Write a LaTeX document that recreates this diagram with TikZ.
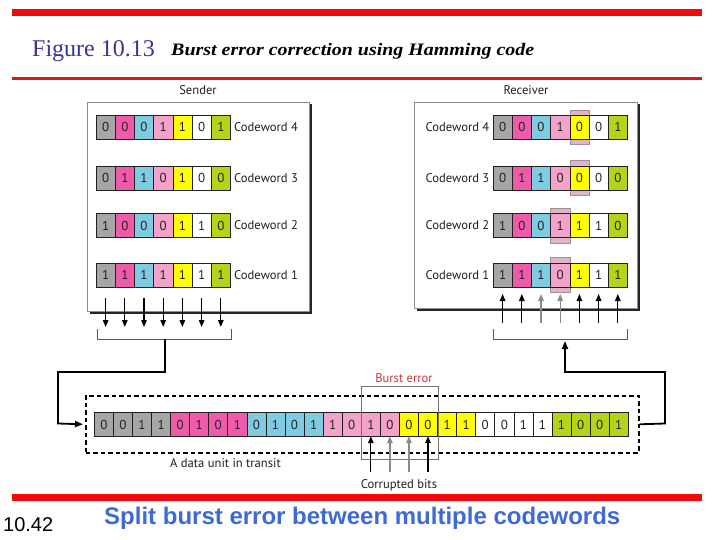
\documentclass[tikz,border=0pt]{standalone}
\usepackage{fontspec}
\setmainfont{Liberation Serif}
\newfontfamily\lblfont{PT Sans}
\newfontfamily\arialfont{Liberation Sans}
\usetikzlibrary{arrows.meta}
\definecolor{col1}{HTML}{A6A6A6}
\definecolor{col2}{HTML}{EE5BA9}
\definecolor{col3}{HTML}{7FCCE2}
\definecolor{col4}{HTML}{F4A2CA}
\definecolor{col5}{HTML}{FFFF00}
\definecolor{col6}{HTML}{FFFFFF}
\definecolor{col7}{HTML}{B5D417}
\definecolor{redline}{HTML}{EE0A0A}
\definecolor{redline2}{HTML}{D41A1A}
\definecolor{figblue}{HTML}{36369A}
\definecolor{subblue}{HTML}{3D6AD6}
\definecolor{burstred}{HTML}{D0343C}
\definecolor{hilite}{HTML}{D9B6C8}
\definecolor{hiedge}{HTML}{A98A9A}
\definecolor{txt}{HTML}{231F20}
\definecolor{garrow}{HTML}{8A8A8A}
\begin{document}
\begin{tikzpicture}[x=1pt,y=-1pt,
  cell/.style={draw=txt, line width=0.6pt, minimum width=19.2pt, minimum height=24pt,
    inner sep=0pt, outer sep=0pt, anchor=north west,
    font=\lblfont\fontsize{13}{15}\selectfont, text=txt},
  tcell/.style={cell, minimum width=19.07pt, minimum height=23.5pt},
  lbl/.style={font=\lblfont\fontsize{12.6}{15}\selectfont, text=txt, inner sep=0pt},
  arr/.style={line width=1.3pt, -{Triangle[length=7pt,width=5.5pt]}},
  garr/.style={arr, draw=garrow},
  conn/.style={line width=1.8pt, draw=black},
  brk/.style={line width=0.8pt, draw=black!65},
  hi/.style={fill=hilite, draw=hiedge, line width=0.6pt},
  frame/.style={draw=black!45, line width=0.8pt, fill=white},
  shadow/.style={fill=black!85}
]
\path[use as bounding box, fill=white] (0,0) rectangle (720,540);

% red rules
\fill[redline] (12,9) rectangle (702,15.7);
\fill[redline2] (12,76.7) rectangle (702,80);
\fill[redline] (12,494.3) rectangle (702,501);

% title
\node[anchor=base west, inner sep=0pt, text=figblue, font=\fontsize{24}{28}\selectfont] (fig) at (32,57) {Figure 10.13};
\node[anchor=base west, inner sep=0pt, font=\bfseries\itshape\fontsize{17.5}{20}\selectfont] (ttl) at (171,56) {\scalebox{1.14}[1]{Burst error correction using Hamming code}};

% bottom texts
\node[anchor=base west, inner sep=0pt, font=\arialfont\fontsize{20}{24}\selectfont] (pg) at (3,531.7) {10.42};
\node[anchor=base west, inner sep=0pt, text=subblue, font=\arialfont\bfseries\fontsize{24}{28}\selectfont] (sub) at (104,524) {Split burst error between multiple codewords};

% sender frame
\node[lbl] (sender) at (198,90) {Sender};
\fill[shadow] (89.5,104.5) rectangle (311.5,313.5);
\draw[frame] (87,102) rectangle (309,311);

% receiver frame
\node[lbl] (receiver) at (526,90) {Receiver};
\fill[shadow] (416.5,104.5) rectangle (639.5,310.5);
\draw[frame] (414,102) rectangle (637,308);

% highlights (behind receiver cells)
\draw[hi] (569.8,110.5) rectangle (589,144);
\draw[hi] (569.8,160.5) rectangle (589,195);
\draw[hi] (550.6,208) rectangle (569.8,243);
\draw[hi] (550.6,257) rectangle (569.8,292);

% sender codewords
\foreach \row/\ytop/\bits in {4/115/{0,0,0,1,1,0,1}, 3/166/{0,1,1,0,1,0,0}, 2/213.5/{1,0,0,0,1,1,0}, 1/263/{1,1,1,1,1,1,1}} {
  \foreach \b [count=\c] in \bits {
    \node[cell, fill=col\c] (s\row-\c) at ({96+19.2*(\c-1)},\ytop) {\b};
  }
  \node[lbl, anchor=west] (sl\row) at (234,\ytop+12) {Codeword \row};
}

% receiver codewords
\foreach \row/\ytop/\bits in {4/115/{0,0,0,1,0,0,1}, 3/166/{0,1,1,0,0,0,0}, 2/213.5/{1,0,0,1,1,1,0}, 1/263/{1,1,1,0,1,1,1}} {
  \foreach \b [count=\c] in \bits {
    \node[cell, fill=col\c] (r\row-\c) at ({493+19.2*(\c-1)},\ytop) {\b};
  }
  \node[lbl, anchor=east] (rl\row) at (489.5,\ytop+12) {Codeword \row};
}

% sender arrows
\foreach \c in {1,...,7} {
  \draw[arr] ([yshift=-11pt]s1-\c.south) -- ([yshift=-40pt]s1-\c.south);
}
% receiver arrows
\foreach \c in {1,2,5,6,7} {
  \draw[arr] ([yshift=-36pt]r1-\c.south) -- ([yshift=-7pt]r1-\c.south);
}
\foreach \c in {3,4} {
  \draw[garr] ([yshift=-36pt]r1-\c.south) -- ([yshift=-7pt]r1-\c.south);
}

% brackets
\coordinate (sb) at (165,339);
\coordinate (rb) at (565,339);
\draw[brk] (97,329) -- (97,339) -- (231,339) -- (231,329);
\draw[brk] (493,329) -- (493,339) -- (627,339) -- (627,329);

% transit unit
\node[draw=black, line width=1.6pt, dash pattern=on 4.5pt off 3pt, minimum width=553pt, minimum height=57pt, inner sep=0pt, anchor=north west] (transit) at (85,395) {};
\foreach \b [count=\i] in {0,0,1,1, 0,1,0,1, 0,1,0,1, 1,0,1,0, 0,0,1,1, 0,0,1,1, 1,0,0,1} {
  \pgfmathtruncatemacro\g{int((\i-1)/4)+1}
  \node[tcell, fill=col\g] (t\i) at ({94.3+19.07*(\i-1)},412.7) {\b};
}
\node[lbl] (transitlbl) at (225.5,463) {A data unit in transit};

% burst error box
\node[draw=black!55, line width=0.7pt, minimum width=76.3pt, minimum height=73pt, inner sep=0pt, anchor=north west] (burst) at (361.4,386) {};
\node[lbl, text=burstred] (burstlbl) at (404,378) {Burst error};
\node[lbl] (corrupt) at (399,485) {Corrupted bits};
\draw[arr] ([yshift=-36pt]t15.south) -- (t15.south);
\draw[garr] ([yshift=-36pt]t16.south) -- (t16.south);
\draw[garr] ([yshift=-36pt]t17.south) -- (t17.south);
\draw[arr] ([yshift=-36pt]t18.south) -- (t18.south);

% connectors
\draw[conn, -{Triangle[length=8pt,width=6pt]}] (sb) -- (165,372) -- (58,372) -- (58,423.5) -- ([xshift=-2pt]transit.west);
\draw[conn, -{Triangle[length=8pt,width=6pt]}] (transit.east) -- (665,423.5) -- (665,372) -- (565,372) -- ([yshift=-2pt]rb);
\end{tikzpicture}
\end{document}
